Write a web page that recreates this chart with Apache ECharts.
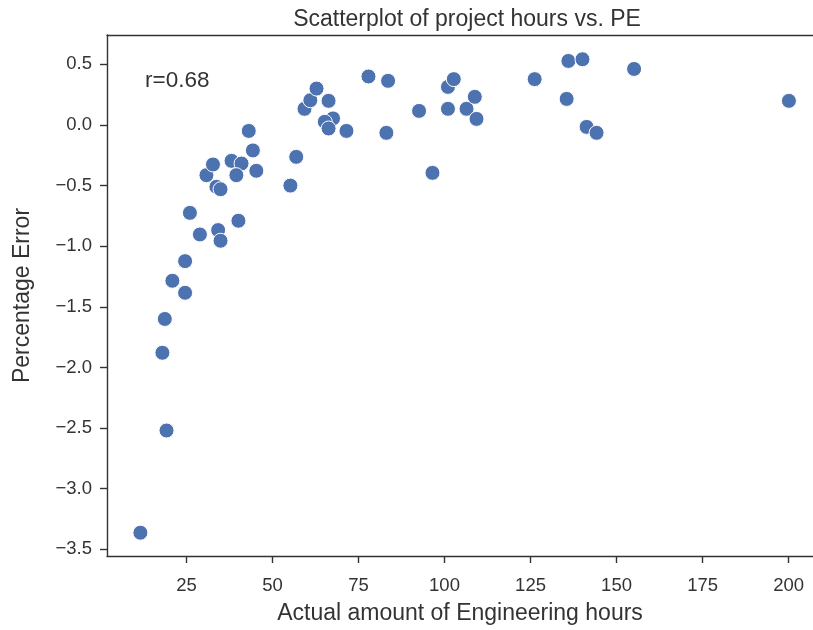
<!DOCTYPE html>
<html>
<head>
<meta charset="utf-8">
<script src="https://cdn.jsdelivr.net/npm/echarts@6/dist/echarts.min.js"></script>
<style>
  html, body { margin: 0; padding: 0; background: #fff; }
  #chart { width: 813px; height: 630px; }
</style>
</head>
<body>
<div id="chart"></div>
<script>
// Actual engineering hours per project
const hours = [
  11.6, 19.2, 18.0, 18.7, 20.9, 24.6, 24.6, 26.0, 28.9, 34.2,
  34.9, 40.1, 30.8, 32.7, 33.7, 34.9, 38.1, 41.0, 39.5, 45.3,
  44.3, 43.1, 55.2, 56.9, 59.3, 61.0, 62.8, 66.3, 67.6, 65.2,
  66.3, 71.5, 77.9, 83.6, 83.1, 92.6, 96.5, 101.0, 102.7, 101.0,
  106.4, 108.8, 109.3, 126.2, 136.0, 140.1, 135.5, 141.3, 144.2, 155.1,
  200.1
];
// Percentage error of the estimate for each project
const pctError = [
  -3.363, -2.52, -1.879, -1.60, -1.285, -1.384, -1.123, -0.725, -0.903, -0.867,
  -0.955, -0.79, -0.414, -0.326, -0.51, -0.53, -0.296, -0.318, -0.414, -0.378,
  -0.21, -0.049, -0.50, -0.263, 0.133, 0.204, 0.30, 0.199, 0.054, 0.026,
  -0.029, -0.049, 0.40, 0.364, -0.065, 0.116, -0.395, 0.314, 0.378, 0.133,
  0.133, 0.232, 0.05, 0.378, 0.528, 0.542, 0.215, -0.016, -0.065, 0.462,
  0.199
];
const xTicks = [25, 50, 75, 100, 125, 150, 175, 200];
const yTicks = [-3.5, -3.0, -2.5, -2.0, -1.5, -1.0, -0.5, 0.0, 0.5];
const corrLabel = 'r=0.68';

const points = hours.map((h, i) => [h, pctError[i]]);
const ink = '#333333';
const font = '"Liberation Sans", Arial, sans-serif';

const chart = echarts.init(document.getElementById('chart'), null, { renderer: 'canvas' });
chart.setOption({
  animation: false,
  backgroundColor: '#ffffff',
  title: {
    text: 'Scatterplot of project hours vs. PE',
    left: 462, top: 3, textAlign: 'center',
    textStyle: { fontFamily: font, fontSize: 23, fontWeight: 'normal', color: ink }
  },
  grid: { left: 107, right: 0, top: 35, bottom: 74, containLabel: false },
  xAxis: [{
    type: 'value', min: 1.9, max: 207.1,
    name: 'Actual amount of Engineering hours',
    nameLocation: 'middle', nameGap: 46,
    nameTextStyle: { fontFamily: font, fontSize: 23, color: ink },
    splitLine: { show: false },
    axisLine: { show: true, onZero: false, lineStyle: { color: ink, width: 1.4 } },
    axisTick: { show: true, length: 7, customValues: xTicks, lineStyle: { color: ink, width: 1.4 } },
    axisLabel: { customValues: xTicks, margin: 20, fontFamily: font, fontSize: 18.5, color: ink }
  }, {
    type: 'value', position: 'top', min: 1.9, max: 207.1,
    splitLine: { show: false },
    axisLine: { show: true, onZero: false, lineStyle: { color: ink, width: 1.4 } },
    axisTick: { show: false }, axisLabel: { show: false }
  }],
  yAxis: {
    type: 'value', min: -3.555, max: 0.742,
    name: 'Percentage Error',
    nameLocation: 'middle', nameGap: 73,
    nameTextStyle: { fontFamily: font, fontSize: 23, color: ink },
    splitLine: { show: false },
    axisLine: { show: true, onZero: false, lineStyle: { color: ink, width: 1.4 } },
    axisTick: { show: true, length: 7, customValues: yTicks, lineStyle: { color: ink, width: 1.4 } },
    axisLabel: {
      customValues: yTicks, margin: 15, fontFamily: font, fontSize: 18.5, color: ink,
      formatter: v => (v < 0 ? '\u2212' : '') + Math.abs(v).toFixed(1)
    }
  },
  graphic: [{
    type: 'text', left: 145, top: 69,
    style: { text: corrLabel, font: '22.5px ' + font, fill: ink }
  }],
  series: [{
    type: 'scatter',
    data: points,
    symbol: 'circle',
    symbolSize: 15,
    itemStyle: { color: '#4c72b0', borderColor: '#ffffff', borderWidth: 1, opacity: 1 }
  }]
});
</script>
</body>
</html>
